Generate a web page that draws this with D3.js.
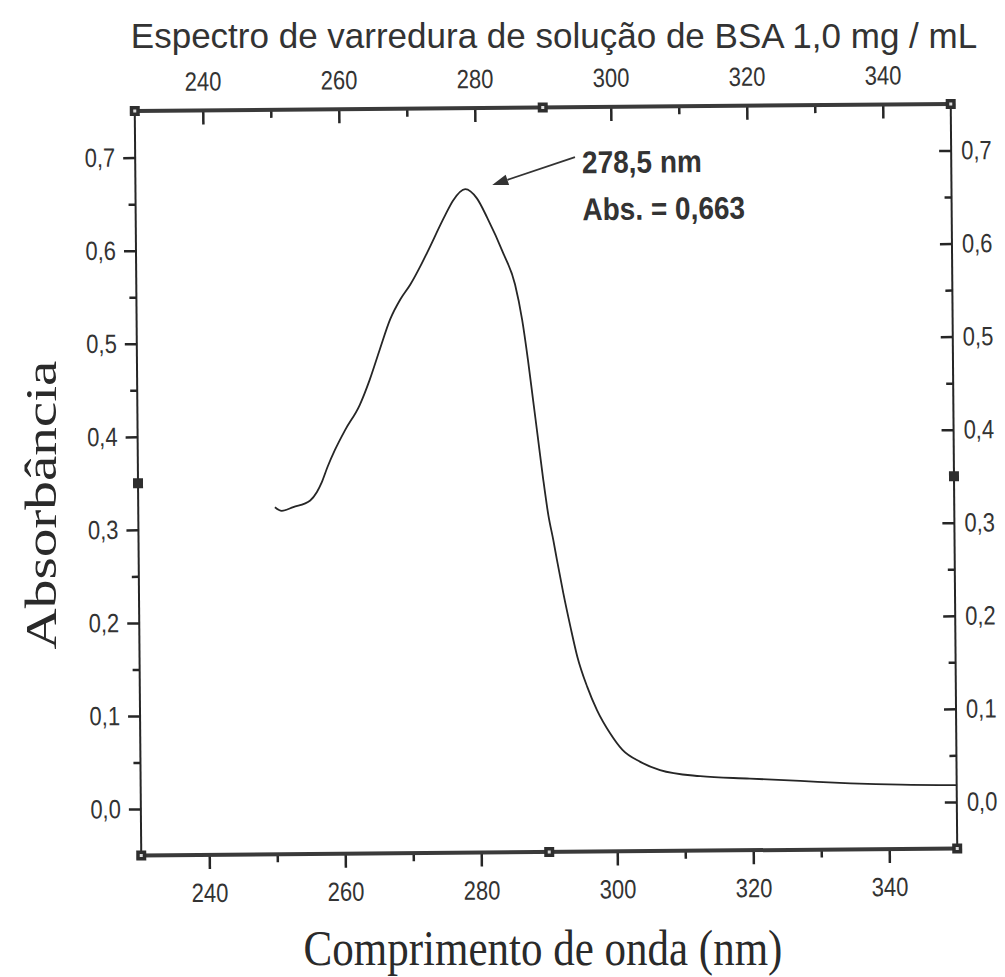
<!DOCTYPE html>
<html>
<head>
<meta charset="utf-8">
<script src="https://cdn.jsdelivr.net/npm/d3@7"></script>
<style>
  body { margin: 0; background: #fff; }
  svg { display: block; }
</style>
</head>
<body>
<div id="chart"></div>
<script>
// spectrum (wavelength in nm, absorbance)
const wavelength = [250.1, 251.1, 252.8, 255.3, 256.3, 257.0, 257.9, 259.0, 260.5, 262.7,
    264.2, 265.7, 267.3, 268.8, 270.3, 271.9, 272.8, 275.5, 276.7, 278.5,
    280.2, 281.7, 284.0, 285.7, 286.7, 287.5, 288.2, 288.9, 289.6, 290.3,
    291.0, 291.5, 292.4, 293.4, 294.4, 295.8, 297.2, 299.1, 300.9, 303.5,
    306.4, 312.3, 319.6, 327.0, 334.4, 341.8, 349.9]
const absorbance = [0.323, 0.319, 0.323, 0.330, 0.339, 0.349, 0.366, 0.384, 0.405, 0.432,
    0.459, 0.491, 0.524, 0.545, 0.561, 0.582, 0.595, 0.635, 0.651, 0.663,
    0.653, 0.632, 0.594, 0.560, 0.522, 0.479, 0.436, 0.393, 0.350, 0.312,
    0.285, 0.264, 0.228, 0.192, 0.159, 0.127, 0.102, 0.077, 0.059, 0.046,
    0.037, 0.030, 0.027, 0.024, 0.021, 0.019, 0.018]

const xMajor = [240, 260, 280, 300, 320, 340]
const xMinor = [250, 270, 310, 330]
const xTickLabels = ['240', '260', '280', '300', '320', '340']
const yMajor = [0, 0.1, 0.2, 0.3, 0.4, 0.5, 0.6, 0.7]
const yMinor = [0.05, 0.15, 0.25, 0.45, 0.55, 0.65]
const yTickLabels = ['0,0', '0,1', '0,2', '0,3', '0,4', '0,5', '0,6', '0,7']

const peak = [278.5, 0.663]
const peakLabels = ['278,5 nm', 'Abs. = 0,663']

const title = 'Espectro de varredura de solução de BSA 1,0 mg / mL'
const xTitle = 'Comprimento de onda (nm)'
const yTitle = 'Absorbância'

const sans = '"Liberation Sans", Arial, sans-serif'
const serif = '"Liberation Serif", "Times New Roman", serif'
const ink = '#262626'

const width = 1005
const height = 977
const margin = { top: 107.5, right: 51, bottom: 125, left: 138 }

const svg = d3.select('#chart')
    .append('svg')
    .attr('width', width)
    .attr('height', height)

const x = d3.scaleLinear()
    .domain([230, 350])
    .range([margin.left, width - margin.right])

const y = d3.scaleLinear()
    .domain([-0.05, 0.75])
    .range([height - margin.bottom, margin.top])

// the scan is slightly tilted, so the plot box is tilted too
const plot = svg.append('g')
    .attr('transform', 'rotate(-0.5, 546, 480)')

const stretch = 'scale(1,1.2)'

// helper: put an axis in its own group and style its ticks
const addAxis = (axis, tx, ty) => {
    const g = plot.append('g')
        .attr('transform', `translate(${tx},${ty})`)
        .call(axis)
    g.select('.domain').remove()
    g.selectAll('.tick line')
        .attr('stroke', ink)
        .attr('stroke-width', 2.5)
    g.selectAll('.tick text')
        .attr('fill', '#333')
        .style('font-family', sans)
        .style('font-size', '22px')
    return g
}

const yBottom = y(-0.05)
const yTop = y(0.75)
const xLeft = x(230)
const xRight = x(350)

// bottom axis, ticks outward
const bottomAxis = addAxis(d3.axisBottom(x).tickValues(xMajor).tickSize(14)
    .tickFormat((d, i) => xTickLabels[i]), 0, yBottom)
addAxis(d3.axisBottom(x).tickValues(xMinor).tickSize(8).tickFormat(''), 0, yBottom)

// top axis, ticks inward
const topAxis = addAxis(d3.axisTop(x).tickValues(xMajor).tickSize(-14)
    .tickFormat((d, i) => xTickLabels[i]), 0, yTop)
addAxis(d3.axisTop(x).tickValues(xMinor).tickSize(-8).tickFormat(''), 0, yTop)

// left axis, ticks outward
const leftAxis = addAxis(d3.axisLeft(y).tickValues(yMajor).tickSize(12).tickPadding(8)
    .tickFormat((d, i) => yTickLabels[i]), xLeft, 0)
addAxis(d3.axisLeft(y).tickValues(yMinor).tickSize(7).tickFormat(''), xLeft, 0)

// right axis, ticks inward
const rightAxis = addAxis(d3.axisRight(y).tickValues(yMajor).tickSize(-12).tickPadding(10)
    .tickFormat((d, i) => yTickLabels[i]), xRight, 0)
addAxis(d3.axisRight(y).tickValues(yMinor).tickSize(-7).tickFormat(''), xRight, 0)

bottomAxis.selectAll('.tick text')
    .attr('y', null).attr('dy', null)
    .attr('transform', `translate(0,47) ${stretch}`)
topAxis.selectAll('.tick text')
    .attr('y', null).attr('dy', null)
    .attr('transform', `translate(0,-20) ${stretch}`)
leftAxis.selectAll('.tick text').attr('transform', stretch)
rightAxis.selectAll('.tick text').attr('transform', stretch)

// plot frame: heavy top and bottom rules, thinner sides
plot.append('line')
    .attr('x1', xLeft).attr('x2', xRight).attr('y1', yTop).attr('y2', yTop)
    .attr('stroke', '#3a3a3a').attr('stroke-width', 4)
plot.append('line')
    .attr('x1', xLeft).attr('x2', xRight).attr('y1', yBottom).attr('y2', yBottom)
    .attr('stroke', '#3a3a3a').attr('stroke-width', 4)
plot.append('line')
    .attr('x1', xLeft).attr('x2', xLeft).attr('y1', yTop).attr('y2', yBottom)
    .attr('stroke', ink).attr('stroke-width', 2)
plot.append('line')
    .attr('x1', xRight).attr('x2', xRight).attr('y1', yTop).attr('y2', yBottom)
    .attr('stroke', ink).attr('stroke-width', 2)

// little square handles at corners and mid points of the frame
const handles = [
    [230, 0.75], [290, 0.75], [350, 0.75],
    [230, 0.35], [350, 0.35],
    [230, -0.05], [290, -0.05], [350, -0.05]
]
plot.selectAll('.handle')
    .data(handles)
    .enter()
    .append('rect')
        .attr('class', 'handle')
        .attr('x', d => x(d[0]) - 5)
        .attr('y', d => y(d[1]) - 5)
        .attr('width', 10)
        .attr('height', 10)
        .attr('fill', '#2e2e2e')
plot.selectAll('.handleHole')
    .data(handles.filter(d => d[1] != 0.35))
    .enter()
    .append('rect')
        .attr('class', 'handleHole')
        .attr('x', d => x(d[0]) - 1.5)
        .attr('y', d => y(d[1]) - 1.5)
        .attr('width', 3)
        .attr('height', 3)
        .attr('fill', '#ddd')

// the spectrum
const points = wavelength.map((w, i) => [w, absorbance[i]])
const line = d3.line()
    .x(d => x(d[0]))
    .y(d => y(d[1]))
    .curve(d3.curveMonotoneX)

plot.append('path')
    .datum(points)
    .attr('d', line)
    .attr('fill', 'none')
    .attr('stroke', ink)
    .attr('stroke-width', 1.8)
    .attr('stroke-linejoin', 'round')

// peak annotation with arrow
const px = x(peak[0])
const py = y(peak[1])
const tip = [px + 27, py - 4]
const tail = [px + 110, py - 31]
const ang = Math.atan2(tip[1] - tail[1], tip[0] - tail[0])
const headLen = 16
const headHalf = 5.5
const base = [tip[0] - headLen * Math.cos(ang), tip[1] - headLen * Math.sin(ang)]

plot.append('line')
    .attr('x1', tail[0]).attr('y1', tail[1])
    .attr('x2', base[0]).attr('y2', base[1])
    .attr('stroke', '#333')
    .attr('stroke-width', 1.8)
plot.append('path')
    .attr('d', d3.line()([
        tip,
        [base[0] + headHalf * Math.sin(ang), base[1] - headHalf * Math.cos(ang)],
        [base[0] - headHalf * Math.sin(ang), base[1] + headHalf * Math.cos(ang)]
    ]) + 'Z')
    .attr('fill', '#333')

plot.selectAll('.peakLabel')
    .data(peakLabels)
    .enter()
    .append('text')
        .attr('class', 'peakLabel')
        .attr('transform', (d, i) => `translate(${px + 117},${py - 15 + i * 47}) scale(1,1.12)`)
        .attr('fill', '#333')
        .style('font-family', sans)
        .style('font-size', '28px')
        .style('font-weight', 'bold')
        .text(d => d)

// titles
svg.append('text')
    .attr('x', 554)
    .attr('y', 48)
    .attr('text-anchor', 'middle')
    .attr('fill', '#333')
    .style('font-family', sans)
    .style('font-size', '35px')
    .text(title)

svg.append('text')
    .attr('transform', 'translate(543,965) scale(1,1.2)')
    .attr('text-anchor', 'middle')
    .attr('fill', '#2a2a2a')
    .style('font-family', serif)
    .style('font-size', '43px')
    .text(xTitle)

svg.append('text')
    .attr('transform', 'translate(56,505) rotate(-90) scale(1.3,1)')
    .attr('text-anchor', 'middle')
    .attr('fill', '#2a2a2a')
    .style('font-family', serif)
    .style('font-size', '44px')
    .text(yTitle)
</script>
</body>
</html>
